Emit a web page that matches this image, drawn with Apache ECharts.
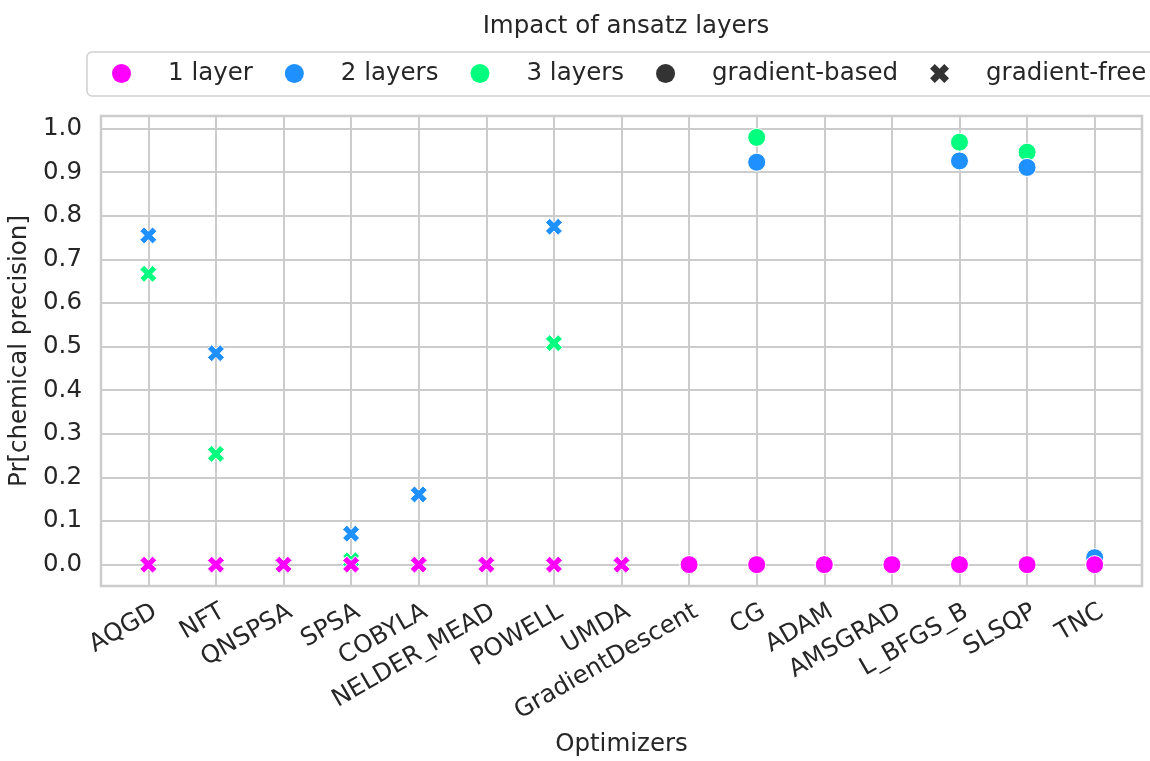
<!DOCTYPE html>
<html>
<head>
<meta charset="utf-8">
<script src="https://cdn.jsdelivr.net/npm/echarts@6/dist/echarts.min.js"></script>
<style>
html,body{margin:0;padding:0;background:#fff;}
#chart{width:1150px;height:761px;}
</style>
</head>
<body>
<div id="chart"></div>
<script>
const optimizers = ['AQGD','NFT','QNSPSA','SPSA','COBYLA','NELDER_MEAD','POWELL','UMDA',
  'GradientDescent','CG','ADAM','AMSGRAD','L_BFGS_B','SLSQP','TNC'];
// first 8 are gradient-free, rest gradient-based
const gradientFree = [true,true,true,true,true,true,true,true,false,false,false,false,false,false,false];
const layer1 = [0,0,0,0,0,0,0,0,0,0,0,0,0,0,0];
const layer2 = [0.755,0.485,0,0.071,0.161,0,0.775,0,0,0.923,0,0,0.926,0.911,0.016];
const layer3 = [0.667,0.254,0,0.010,0,0,0.508,0,0,0.980,0,0,0.969,0.946,0];
const yTicks = [0,0.1,0.2,0.3,0.4,0.5,0.6,0.7,0.8,0.9,1.0];
const xTicks = optimizers.map((_, i) => i);

const X_PATH = 'path://M1,-2 L2,-1 L1,0 L2,1 L1,2 L0,1 L-1,2 L-2,1 L-1,0 L-2,-1 L-1,-2 L0,-1 Z';
const TXT = '#262626';
const FONT = 'DejaVu Sans';
const FS = 24.5;

function toData(arr) { return arr.map((v, i) => [i, v]); }
function sym(val) { return gradientFree[val[0]] ? X_PATH : 'circle'; }
function symSize(val) { return gradientFree[val[0]] ? 17 : 18; }

function layerSeries(name, arr, color) {
  return {
    name: name, type: 'scatter', data: toData(arr),
    symbol: sym, symbolSize: symSize,
    itemStyle: { color: color, borderColor: '#ffffff', borderWidth: 1, opacity: 1 },
    emphasis: { disabled: true }
  };
}

const chart = echarts.init(document.getElementById('chart'), null, { renderer: 'canvas' });
chart.setOption({
  backgroundColor: '#ffffff',
  animation: false,
  textStyle: { fontFamily: FONT },
  title: {
    text: 'Impact of ansatz layers', left: 621, top: 9, textAlign: 'center',
    textStyle: { fontFamily: FONT, fontSize: FS, fontWeight: 'normal', color: TXT }
  },
  legend: {
    left: 87, top: 52, width: 1300,
    orient: 'horizontal',
    padding: [9, 25, 10, 25],
    borderColor: '#d0d0d0', borderWidth: 1.5, borderRadius: 5,
    itemWidth: 19, itemHeight: 19, itemGap: 32,
    itemStyle: { opacity: 1, borderWidth: 0 },
    textStyle: { fontFamily: FONT, fontSize: FS, color: TXT, padding: [0, 0, 0, 32] },
    data: [
      { name: '1 layer', icon: 'circle' },
      { name: '2 layers', icon: 'circle' },
      { name: '3 layers', icon: 'circle' },
      { name: 'gradient-based', icon: 'circle' },
      { name: 'gradient-free', icon: X_PATH }
    ],
    selectedMode: false
  },
  grid: {
    left: 101, top: 116, width: 1041, height: 470,
    containLabel: false, outerBoundsMode: 'none',
    show: true, borderColor: '#cccccc', borderWidth: 2.5, backgroundColor: 'transparent'
  },
  xAxis: {
    type: 'value', min: -0.7, max: 14.7,
    name: 'Optimizers', nameLocation: 'middle', nameGap: 146,
    nameTextStyle: { fontFamily: FONT, fontSize: FS, color: TXT },
    axisLine: { show: false },
    axisTick: { show: false, customValues: xTicks },
    axisLabel: {
      customValues: xTicks, rotate: 30, margin: 28,
      padding: [0, -8, 0, 0],
      fontFamily: FONT, fontSize: FS, color: TXT,
      formatter: v => optimizers[Math.round(v)]
    },
    splitLine: { show: true, lineStyle: { color: '#cccccc', width: 2 } }
  },
  yAxis: {
    type: 'value', min: -0.049, max: 1.029,
    name: 'Pr[chemical precision]', nameLocation: 'middle', nameGap: 62,
    nameTextStyle: { fontFamily: FONT, fontSize: FS, color: TXT },
    axisLine: { show: false },
    axisTick: { show: false, customValues: yTicks },
    axisLabel: {
      customValues: yTicks, margin: 19,
      fontFamily: FONT, fontSize: FS, color: TXT,
      formatter: v => v.toFixed(1)
    },
    splitLine: { show: true, lineStyle: { color: '#cccccc', width: 2 } }
  },
  series: [
    layerSeries('3 layers', layer3, '#00ff7f'),
    layerSeries('2 layers', layer2, '#1e90ff'),
    layerSeries('1 layer', layer1, '#ff00ff'),
    { name: 'gradient-based', type: 'scatter', data: [], symbol: 'circle', itemStyle: { color: '#333333', opacity: 1 } },
    { name: 'gradient-free', type: 'scatter', data: [], symbol: X_PATH, itemStyle: { color: '#333333', opacity: 1 } }
  ]
});
</script>
</body>
</html>
